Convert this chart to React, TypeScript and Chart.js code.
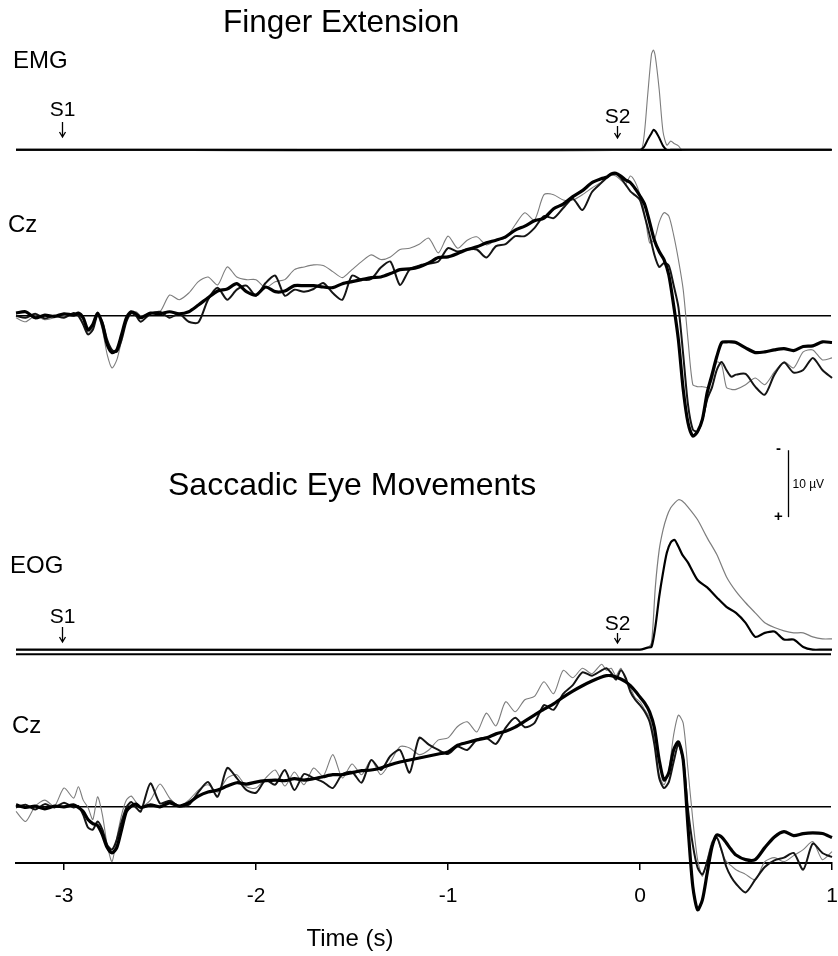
import { useEffect, useRef } from "react";
import { Chart, registerables } from "chart.js";

Chart.register(...registerables);

const FONT = "'Liberation Sans', Arial, Helvetica, sans-serif";

// Shared sample times (s) for the averaged Cz potentials; denser around S1 and S2 responses
const TIME = [
  -3.25, -3.2, -3.15, -3.1, -3.05, -3.0, -2.95,
  -2.925, -2.9, -2.875, -2.85, -2.825, -2.8, -2.775, -2.75, -2.725, -2.7, -2.675, -2.65, -2.625, -2.6,
  -2.55, -2.5, -2.45, -2.4, -2.35, -2.3, -2.25, -2.2, -2.15, -2.1, -2.05, -2.0, -1.95, -1.9, -1.85, -1.8,
  -1.75, -1.7, -1.65, -1.6, -1.55, -1.5, -1.45, -1.4, -1.35, -1.3, -1.25, -1.2, -1.15, -1.1, -1.05, -1.0,
  -0.95, -0.9, -0.85, -0.8, -0.75, -0.7, -0.65, -0.6, -0.55, -0.5, -0.45, -0.4, -0.35, -0.3, -0.25, -0.2,
  -0.175, -0.15, -0.125, -0.1, -0.075, -0.05, -0.025, 0, 0.025, 0.05, 0.075, 0.1, 0.125, 0.15, 0.175, 0.2,
  0.225, 0.25, 0.275, 0.3, 0.325, 0.35, 0.375, 0.4, 0.425, 0.45, 0.475, 0.5,
  0.55, 0.6, 0.65, 0.7, 0.75, 0.8, 0.85, 0.9, 0.95, 1.0,
];

// Cz potentials in µV (negative plotted upward)
const FINGER_CZ_A = [
  -0.4, -0.6, 0.3, -0.1, 0.1, -0.3, -0.1,
  -0.4, 0.3, 2.1, 1.3, -0.4, 1.3, 4.3, 5.5, 5.1, 2.8, 0.3, -0.6, -0.3, 0.3,
  -0.4, -0.3, -0.6, -0.3, -0.6, -1.6, -2.7, -3.7, -4.0, -4.8, -3.6, -3.1, -4.3, -3.6, -3.7, -4.5,
  -4.5, -4.5, -4.3, -4.2, -4.8, -5.1, -5.4, -5.7, -5.8, -6.3, -6.9, -7.0, -7.3, -7.9, -8.7, -8.8,
  -9.3, -9.9, -10.3, -10.9, -11.3, -11.8, -12.8, -13.4, -14.2, -14.6, -16.0, -16.7, -17.8, -18.7, -19.9, -20.5,
  -20.7, -21.2, -21.3, -20.9, -20.3, -19.9, -19.0, -17.9, -16.6, -14.0, -11.3, -9.6, -8.4, -6.1,
  -1.6, 3.6, 11.0, 16.0, 18.0, 17.3, 15.5, 11.5, 8.8, 6.1, 4.0, 3.9, 3.9, 4.0,
  4.8, 5.5, 5.4, 5.1, 4.9, 5.2, 4.6, 4.5, 3.9, 4.0,
];
const FINGER_CZ_B = [
  0, 0.3, -0.3, 0.4, 0, 0.3, -0.4,
  0, 1.3, 2.8, 2.1, -0.1, 0.9, 3.6, 5.1, 5.4, 3.6, 0.9, -0.4, 0, 0.9,
  -0.3, -0.6, 0.3, -0.3, 0.9, 1.0, -2.4, -4.2, -2.4, -3.9, -4.5, -3.0, -4.9, -6.0, -3.0, -3.9,
  -3.6, -4.0, -4.9, -3.4, -2.4, -6.0, -5.4, -5.5, -7.2, -8.1, -4.6, -6.9, -7.5, -7.8, -8.1, -10.1,
  -9.6, -9.9, -9.9, -8.7, -10.4, -10.7, -11.9, -11.9, -13.1, -14.9, -14.6, -16.1, -17.5, -15.8, -18.5, -19.9,
  -20.6, -21.2, -21.2, -20.6, -19.6, -18.6, -18.0, -17.3, -14.8, -12.1, -9.1, -7.3, -7.9, -7.5,
  -4.6, -1.3, 5.8, 13.3, 17.0, 17.3, 15.5, 12.5, 10.7, 8.1, 6.9, 8.1, 9.1, 8.8,
  8.7, 10.6, 11.8, 8.8, 7.0, 8.5, 8.1, 6.3, 8.1, 9.3,
];
const FINGER_CZ_C = [
  0.3, 0.9, 0, 0.6, 0.3, 0, -0.3,
  -0.1, 0.6, 2.4, 1.8, 0, 2.1, 5.8, 7.8, 6.6, 3.6, 0.3, -0.3, -0.6, 0,
  -0.4, -0.6, -3.1, -2.4, -3.4, -5.1, -5.8, -4.6, -7.3, -5.8, -5.4, -5.4, -4.2, -5.1, -5.4, -6.9,
  -7.3, -7.6, -7.5, -6.6, -5.7, -6.9, -8.1, -9.1, -8.4, -8.8, -9.9, -10.1, -10.7, -11.6, -9.4, -11.9,
  -10.1, -11.3, -11.8, -10.6, -11.3, -11.6, -13.6, -15.4, -14.3, -18.1, -18.1, -17.3, -17.3, -18.1, -19.1, -20.0,
  -20.6, -21.0, -20.9, -20.3, -19.7, -20.9, -20.0, -18.1, -15.1, -10.9, -11.4, -14.0, -15.4, -14.9,
  -12.1, -8.4, -3.9, 3.6, 10.3, 10.6, 10.6, 10.7, 9.6, 6.9, 7.3, 10.7, 11.0, 11.0,
  10.3, 9.3, 10.3, 8.4, 6.9, 7.8, 5.4, 5.1, 6.6, 6.3,
];

const SACCADE_CZ_A = [
  -0.3, 0.1, -0.1, 0.3, -0.1, 0, -0.3,
  0.1, 0.7, 1.9, 2.5, 2.8, 4.2, 6.1, 6.9, 6.1, 3.4, 0.7, -0.1, -0.4, 0.1,
  -0.3, 0, -0.6, -0.1, -0.6, -1.6, -2.2, -2.5, -3.1, -3.6, -3.4, -3.7, -3.9, -4.0, -3.9, -4.2,
  -4.0, -4.2, -4.5, -4.8, -4.8, -5.1, -5.4, -5.5, -5.8, -6.3, -6.7, -7.0, -7.3, -7.6, -7.9, -8.2,
  -9.2, -9.6, -10.0, -10.3, -10.9, -11.3, -11.9, -12.8, -13.7, -14.6, -15.4, -16.4, -17.3, -18.1, -18.8, -19.4,
  -19.6, -19.6, -19.4, -19.1, -18.7, -18.1, -17.3, -16.4, -15.5, -14.2, -11.8, -7.0, -4.0, -5.1,
  -8.5, -9.7, -7.0, 3.0, 11.9, 15.4, 13.9, 9.9, 6.0, 4.2, 4.5, 5.4, 6.4, 7.2,
  7.9, 7.9, 6.1, 4.5, 3.7, 4.3, 4.0, 3.9, 4.0, 4.6,
];
const SACCADE_CZ_B = [
  0.1, -0.3, 0.4, -0.4, 0.1, -0.6, 0.1,
  -0.1, 1.2, 3.1, 3.4, 2.2, 3.4, 5.7, 6.4, 4.9, 2.2, 0.1, -0.7, 0.1, 0.7,
  -3.5, -0.5, -0.9, -0.1, -0.3, -2.2, -3.7, -1.5, -5.8, -4.3, -2.5, -2.1, -4.0, -3.3, -5.5, -2.5,
  -4.9, -4.3, -3.7, -2.8, -4.9, -5.2, -3.6, -7.0, -5.5, -7.6, -8.5, -5.1, -10.3, -9.3, -8.5, -7.9,
  -9.0, -8.5, -10.0, -10.3, -9.4, -11.8, -13.3, -11.9, -12.5, -15.2, -14.5, -16.9, -18.2, -20.1, -19.6, -20.4,
  -20.7, -20.0, -19.0, -20.4, -19.3, -17.2, -16.0, -15.2, -14.2, -12.7, -9.3, -4.3, -2.8, -3.7,
  -6.7, -9.3, -7.0, 0.4, 5.7, 9.1, 10.1, 8.2, 5.7, 4.6, 6.5, 9.0, 10.5, 11.5,
  12.8, 10.9, 9.0, 8.0, 7.6, 6.9, 9.4, 5.5, 6.9, 7.5,
];
const SACCADE_CZ_C = [
  0.7, 2.2, -0.1, -1.0, -0.1, -2.8, -1.3,
  -3.0, -1.0, 0.1, 1.9, -1.5, 1.2, 5.7, 8.2, 4.6, 1.2, -1.0, -1.6, -0.7, 0.1,
  -1.0, -3.4, -1.3, -0.1, -1.0, -2.5, -3.3, -2.2, -4.3, -4.8, -3.0, -2.8, -4.3, -5.5, -3.1, -5.2,
  -3.3, -5.8, -4.6, -7.8, -4.3, -6.4, -4.8, -7.0, -4.8, -6.7, -9.0, -8.8, -7.8, -8.5, -10.0, -10.3,
  -12.0, -12.7, -11.2, -14.0, -12.1, -15.7, -14.2, -16.0, -16.5, -18.7, -16.9, -20.4, -19.3, -20.7, -19.9, -21.3,
  -20.4, -20.7, -19.6, -20.7, -19.0, -17.8, -16.3, -15.7, -14.5, -13.3, -10.0, -4.8, -3.3, -5.5,
  -10.7, -13.7, -12.5, -5.5, 1.9, 7.9, 10.4, 7.9, 5.2, 4.6, 6.7, 8.2, 8.8, 9.4,
  10.1, 10.9, 8.2, 7.6, 8.2, 7.3, 6.4, 5.2, 7.9, 6.7,
];

// Rectified EMG (positive plotted upward)
const EMG_TIME = [-3.25, 0, 0.02, 0.04, 0.06, 0.07, 0.08, 0.1, 0.12, 0.14, 0.16, 0.18, 0.2, 0.22, 1.0];
const EMG_BLACK = [0, 0, 0.4, 1.5, 2.5, 3.0, 2.8, 1.8, 0.6, 0, 0, 0, 0, 0, 0];
const EMG_GREY = [0, 0, 1.8, 8.2, 14.3, 14.9, 13.9, 9.0, 2.7, 0.7, 1.3, 0.9, 0.6, 0, 0];

// EOG (positive plotted upward)
const EOG_TIME = [
  -3.25, 0, 0.04, 0.06, 0.08, 0.1, 0.12, 0.14, 0.16, 0.18, 0.2, 0.22, 0.25, 0.3,
  0.35, 0.4, 0.45, 0.5, 0.55, 0.6, 0.65, 0.7, 0.75, 0.8, 0.85, 0.9, 0.95, 1.0,
];
const EOG_BLACK = [
  0.7, 0.7, 1.0, 1.1, 4.1, 8.6, 12.2, 15.2, 16.7, 17.1, 16.1, 14.9, 13.7, 11.1,
  10.0, 8.5, 7.1, 6.2, 4.7, 2.6, 3.2, 3.4, 2.2, 2.2, 1.1, 0.7, 0.7, 0.7,
];
const EOG_GREY = [
  0.7, 0.7, 1.0, 1.7, 10.1, 15.6, 18.6, 20.6, 21.9, 22.6, 23.1, 22.9, 22.0, 20.1,
  17.4, 14.9, 11.6, 9.4, 7.7, 6.2, 4.7, 4.0, 3.5, 3.2, 3.2, 2.6, 2.3, 2.3,
];

const X_TICKS = [-3, -2, -1, 0, 1];
const S1_TIME = -3.01;
const S2_TIME = -0.12;
const SCALE_BAR_UV = 10;

// Layout: vertical axis in µV, reversed so negative is up; panels sit at fixed offsets
const Y_MIN = -129;
const OFFSET_EMG = -106.6;
const OFFSET_FINGER_CZ = -81.8;
const OFFSET_EOG = -31.2;
const OFFSET_SACCADE_CZ = -8.4;
const SCALE_BAR_TOP = -61.7;
const SCALE_BAR_T = 0.771;

const ZERO_LINES = [
  { value: OFFSET_EMG, width: 2.4 },
  { value: OFFSET_FINGER_CZ, width: 1.5 },
  { value: OFFSET_EOG, width: 2.2 },
  { value: OFFSET_SACCADE_CZ, width: 1.5 },
];

const TEXTS = [
  { text: "Finger Extension", x: 223, y: 32, size: 31.5 },
  { text: "EMG", x: 13, y: 68, size: 24 },
  { text: "Cz", x: 8, y: 232, size: 24 },
  { text: "Saccadic Eye Movements", x: 168, y: 495, size: 32 },
  { text: "EOG", x: 10, y: 573, size: 24 },
  { text: "Cz", x: 12, y: 733, size: 24 },
];

const MARKERS = [
  { label: "S1", t: S1_TIME, textY: 116, top: 122, bottom: 137 },
  { label: "S2", t: S2_TIME, textY: 123, top: 126, bottom: 138 },
  { label: "S1", t: S1_TIME, textY: 623, top: 627, bottom: 642 },
  { label: "S2", t: S2_TIME, textY: 630, top: 633, bottom: 643 },
];

type Style = { color: string; width: number };
const THICK: Style = { color: "#000000", width: 3.2 };
const MEDIUM: Style = { color: "#151515", width: 2 };
const THIN: Style = { color: "#7d7d7d", width: 1.1 };

function trace(t: number[], v: number[], offset: number, sign: number, s: Style) {
  return {
    data: t.map((x, i) => ({ x, y: offset + sign * v[i] })),
    borderColor: s.color,
    borderWidth: s.width,
    pointRadius: 0,
    tension: 0.25,
    fill: false,
    clip: false as const,
  };
}

const overlay = {
  id: "overlay",
  beforeDatasetsDraw(chart: any) {
    const { ctx, chartArea, scales } = chart;
    const y = scales.y;
    ctx.save();
    ctx.strokeStyle = "#000";
    for (const z of ZERO_LINES) {
      const py = y.getPixelForValue(z.value);
      ctx.lineWidth = z.width;
      ctx.beginPath();
      ctx.moveTo(chartArea.left, py);
      ctx.lineTo(chartArea.right - 1, py);
      ctx.stroke();
    }
    ctx.restore();
  },
  afterDraw(chart: any) {
    const { ctx, scales } = chart;
    const x = scales.x;
    const y = scales.y;
    ctx.save();
    ctx.fillStyle = "#000";
    ctx.strokeStyle = "#000";
    ctx.textBaseline = "alphabetic";

    ctx.textAlign = "left";
    for (const t of TEXTS) {
      ctx.font = `${t.size}px ${FONT}`;
      ctx.fillText(t.text, t.x, t.y);
    }

    // stimulus arrows
    ctx.textAlign = "center";
    ctx.font = `21px ${FONT}`;
    ctx.lineWidth = 1.3;
    for (const m of MARKERS) {
      const px = Math.round(x.getPixelForValue(m.t)) + 0.5;
      ctx.fillText(m.label, px, m.textY);
      ctx.beginPath();
      ctx.moveTo(px, m.top);
      ctx.lineTo(px, m.bottom);
      ctx.moveTo(px - 3, m.bottom - 5);
      ctx.lineTo(px, m.bottom);
      ctx.lineTo(px + 3, m.bottom - 5);
      ctx.stroke();
    }

    // calibration bar
    const bx = Math.round(x.getPixelForValue(SCALE_BAR_T)) + 0.5;
    const by1 = y.getPixelForValue(SCALE_BAR_TOP);
    const by2 = y.getPixelForValue(SCALE_BAR_TOP + SCALE_BAR_UV);
    ctx.lineWidth = 1.3;
    ctx.beginPath();
    ctx.moveTo(bx, by1);
    ctx.lineTo(bx, by2);
    ctx.stroke();
    ctx.font = `bold 15px ${FONT}`;
    ctx.textAlign = "center";
    ctx.textBaseline = "middle";
    ctx.fillText("-", bx - 10, by1 - 1);
    ctx.fillText("+", bx - 10, by2);
    ctx.font = `12px ${FONT}`;
    ctx.textAlign = "left";
    ctx.fillText(`${SCALE_BAR_UV} µV`, bx + 4, (by1 + by2) / 2 + 1);

    // axis title
    ctx.textBaseline = "alphabetic";
    ctx.textAlign = "center";
    ctx.font = `24px ${FONT}`;
    ctx.fillText("Time (s)", 350, 946);
    ctx.restore();
  },
};

export default function App() {
  const ref = useRef<HTMLCanvasElement>(null);

  useEffect(() => {
    document.body.style.margin = "0";
    const canvas = ref.current;
    if (!canvas) return;

    const datasets = [
      trace(TIME, FINGER_CZ_A, OFFSET_FINGER_CZ, 1, THICK),
      trace(TIME, SACCADE_CZ_A, OFFSET_SACCADE_CZ, 1, THICK),
      trace(EMG_TIME, EMG_BLACK, OFFSET_EMG, -1, { color: "#000", width: 2 }),
      trace(EOG_TIME, EOG_BLACK, OFFSET_EOG, -1, { color: "#000", width: 2.2 }),
      trace(TIME, FINGER_CZ_B, OFFSET_FINGER_CZ, 1, MEDIUM),
      trace(TIME, SACCADE_CZ_B, OFFSET_SACCADE_CZ, 1, MEDIUM),
      trace(TIME, FINGER_CZ_C, OFFSET_FINGER_CZ, 1, THIN),
      trace(TIME, SACCADE_CZ_C, OFFSET_SACCADE_CZ, 1, THIN),
      trace(EMG_TIME, EMG_GREY, OFFSET_EMG, -1, { color: "#7d7d7d", width: 1.1 }),
      trace(EOG_TIME, EOG_GREY, OFFSET_EOG, -1, { color: "#7d7d7d", width: 1.2 }),
    ];

    const chart = new Chart(canvas, {
      type: "line",
      data: { datasets },
      options: {
        animation: false,
        responsive: false,
        events: [],
        layout: { padding: { left: 16, right: 6, top: 0, bottom: 0 } },
        plugins: { legend: { display: false }, tooltip: { enabled: false } },
        scales: {
          x: {
            type: "linear",
            min: -3.25,
            max: 1,
            afterBuildTicks: (s: any) => {
              s.ticks = X_TICKS.map((v) => ({ value: v }));
            },
            afterFit: (s: any) => {
              s.height = 93;
              s.paddingLeft = 0;
              s.paddingRight = 0;
            },
            ticks: {
              color: "#000",
              font: { size: 21, family: FONT },
              padding: 14,
              maxRotation: 0,
              autoSkip: false,
              callback: (v: any) => String(v),
            },
            grid: { drawOnChartArea: false, tickLength: 7, color: "#000", lineWidth: 1.5 },
            border: { color: "#000", width: 2 },
          },
          y: { type: "linear", reverse: true, min: Y_MIN, max: 0, display: false },
        },
      },
      plugins: [overlay],
    });

    return () => chart.destroy();
  }, []);

  return <canvas ref={ref} width={838} height={956} style={{ display: "block" }} />;
}
